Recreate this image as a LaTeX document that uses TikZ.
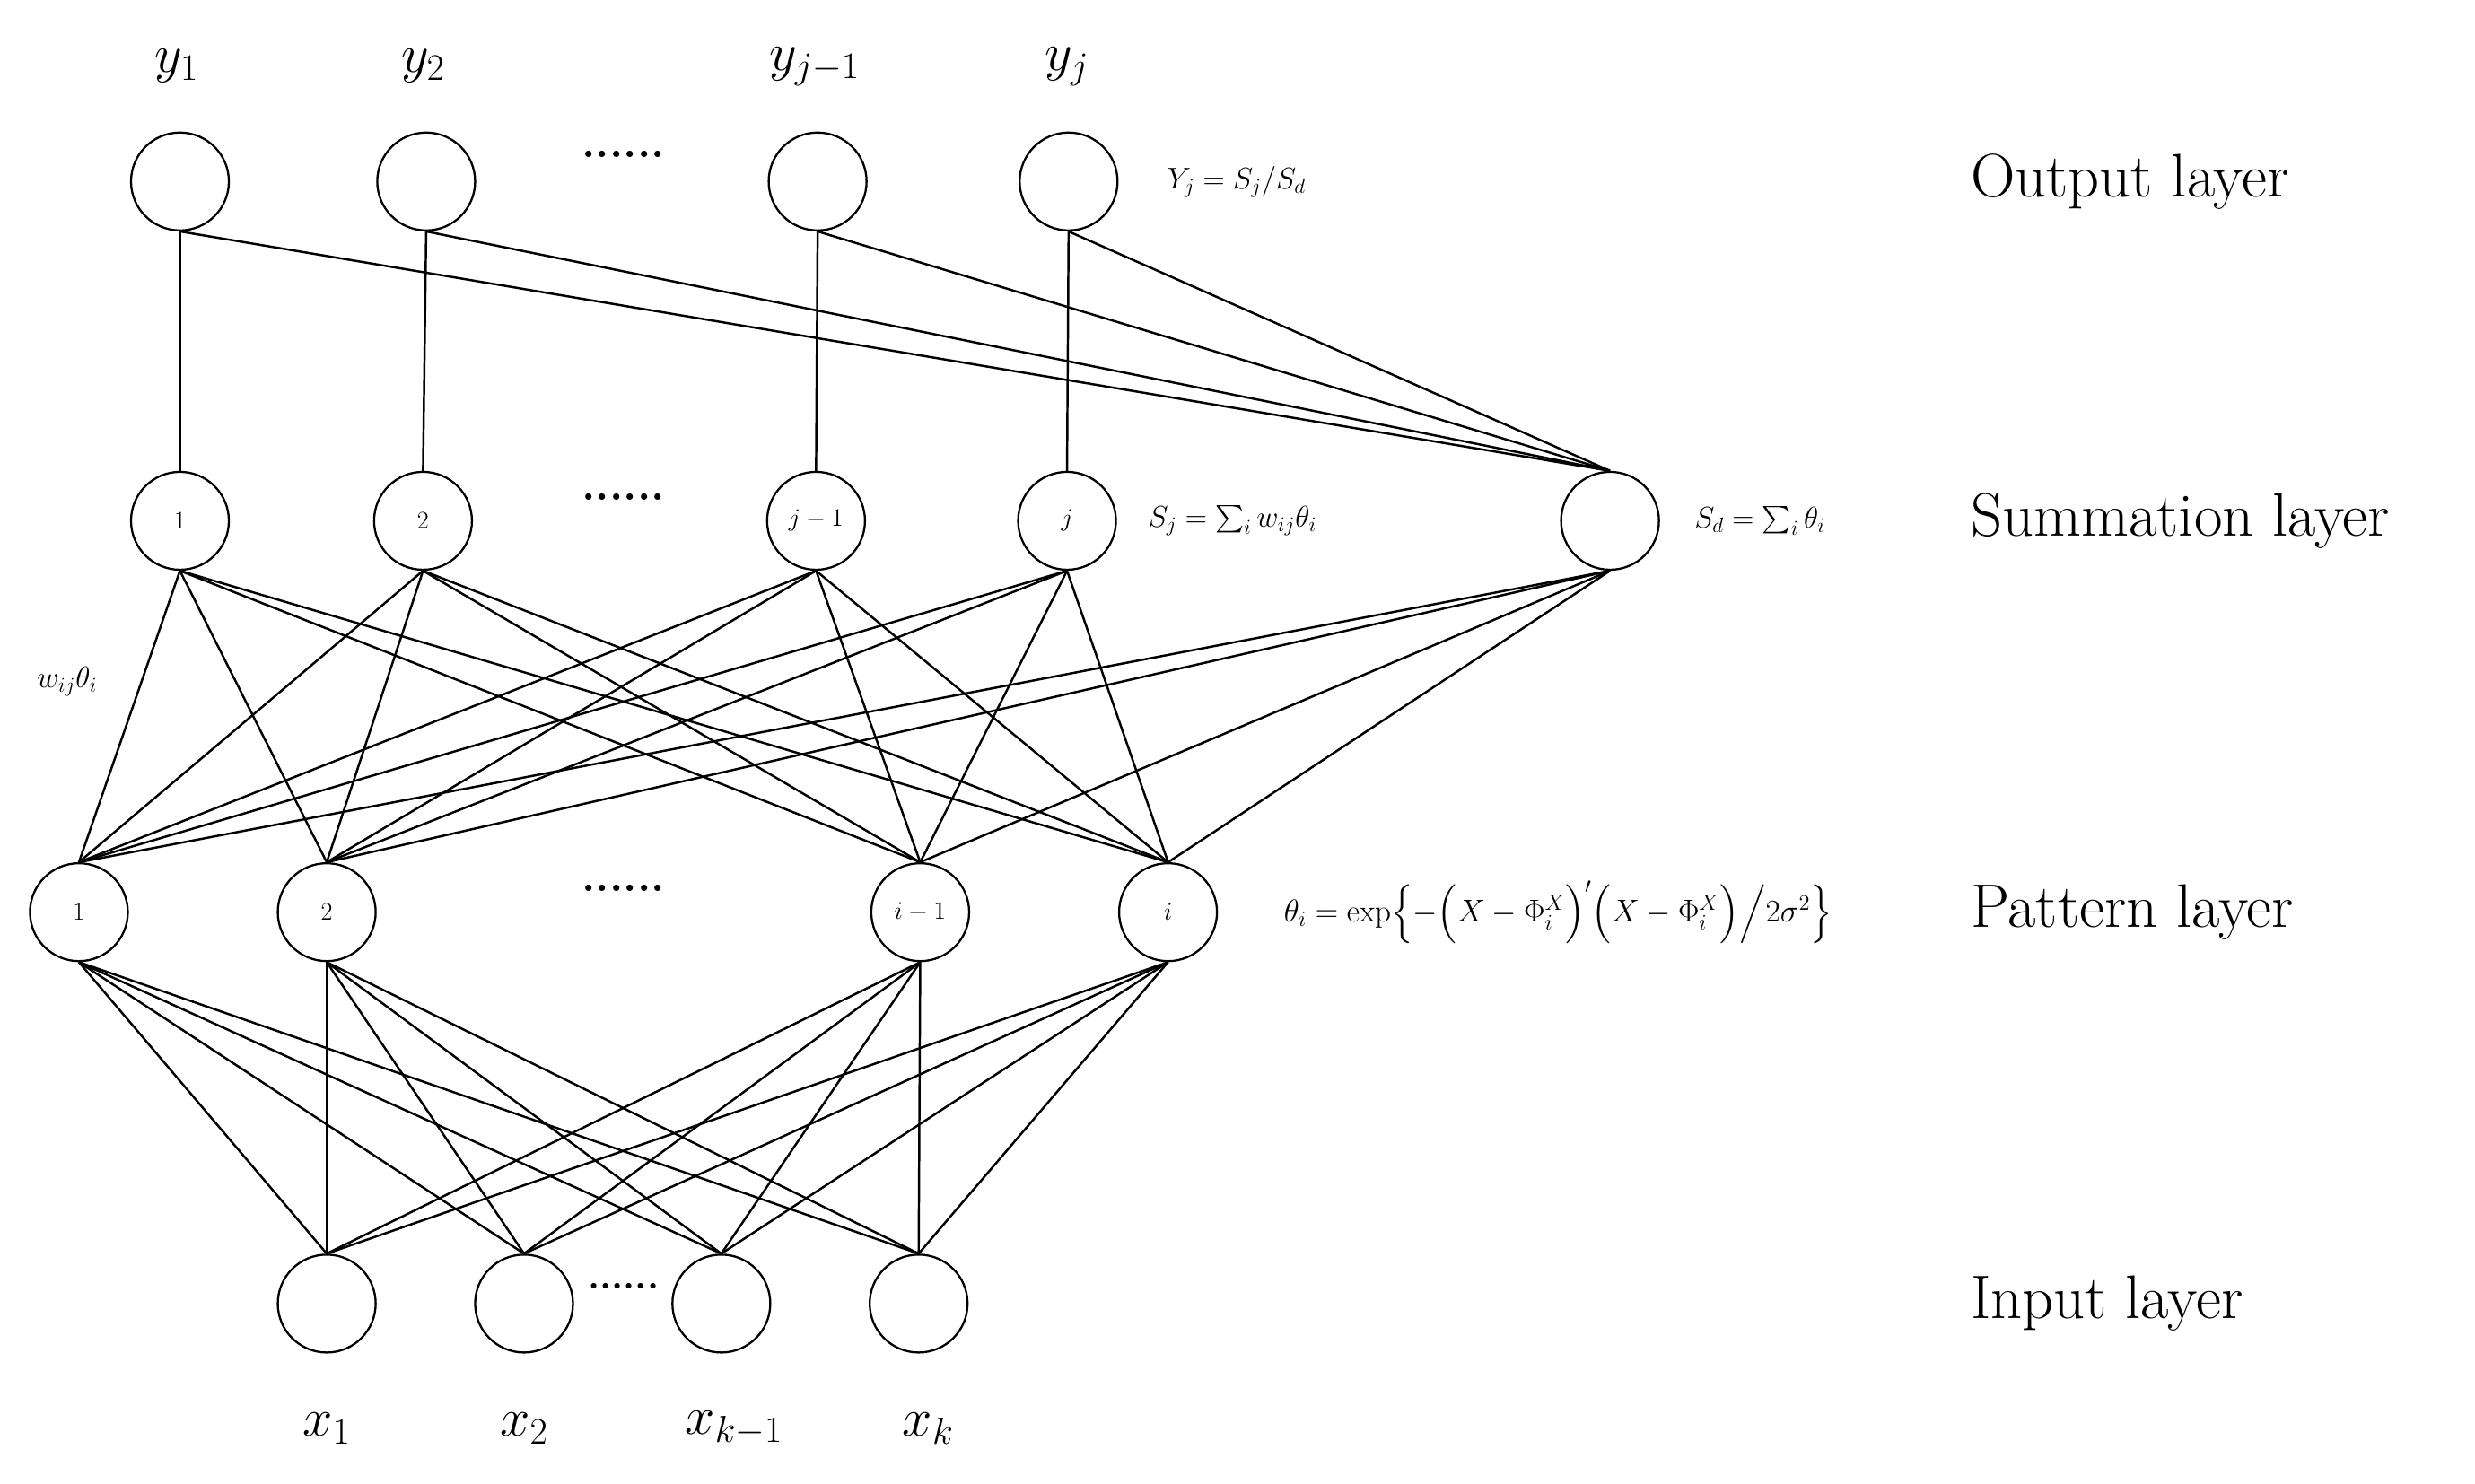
\RequirePackage{fix-cm}
\documentclass[tikz,border=0pt]{standalone}
\usepackage{amsmath}
\begin{document}
\begin{tikzpicture}[x=1pt,y=-1pt,
  nd/.style={circle,draw,line width=1.3pt,minimum size=62pt,inner sep=0pt,font=\fontsize{16}{17}\selectfont},
  ln/.style={line width=1.4pt},
  lay/.style={anchor=west,font=\fontsize{39}{44}\selectfont},
  lab/.style={font=\fontsize{34}{36}\selectfont},
  fm/.style={anchor=west,font=\fontsize{19}{21}\selectfont}]
\useasboundingbox (0,0) rectangle (1568,940);
% output
\foreach \n/\x in {o1/114,o2/270,o3/518,o4/677}{\node[nd] (\n) at (\x,115) {};}
% summation
\node[nd] (s1) at (114,330) {1};
\node[nd] (s2) at (268,330) {2};
\node[nd] (s3) at (517,330) {$j-1$};
\node[nd] (s4) at (676,330) {$j$};
\node[nd] (sd) at (1020,330) {};
% pattern
\node[nd] (p1) at (50,578) {1};
\node[nd] (p2) at (207,578) {2};
\node[nd] (p3) at (583,578) {$i-1$};
\node[nd] (p4) at (740,578) {$i$};
% input
\foreach \n/\x in {i1/207,i2/332,i3/457,i4/582}{\node[nd] (\n) at (\x,826) {};}
% connections
\foreach \k in {1,2,3,4}{
  \draw[ln] (o\k.south) -- (s\k.north);
  \draw[ln] (o\k.south) -- (sd.north);
  \foreach \p in {1,2,3,4}{
    \draw[ln] (s\k.south) -- (p\p.north);
    \draw[ln] (p\k.south) -- (i\p.north);
  }
  \draw[ln] (sd.south) -- (p\k.north);
}
% dots
\node[font=\fontsize{28}{30}\selectfont\bfseries] (d1) at (395,98) {......};
\node[font=\fontsize{28}{30}\selectfont\bfseries] (d2) at (395,315) {......};
\node[font=\fontsize{28}{30}\selectfont\bfseries] (d3) at (395,563) {......};
\node[font=\fontsize{24}{26}\selectfont\bfseries] (d4) at (395,815) {......};
% top labels
\node[lab] (ly1) at (112,42) {$y_1$};
\node[lab] (ly2) at (268,42) {$y_2$};
\node[lab] (ly3) at (516,42) {$y_{j-1}$};
\node[lab] (ly4) at (676,42) {$y_j$};
% bottom labels
\node[lab] (lx1) at (207,905) {$x_1$};
\node[lab] (lx2) at (332,905) {$x_2$};
\node[lab] (lx3) at (465,905) {$x_{k-1}$};
\node[lab] (lx4) at (588,905) {$x_k$};
% formulas
\node[fm] (f1) at (736,115) {$Y_j=S_j/S_d$};
\node[fm] (f2) at (724,330) {$S_j=\sum_i w_{ij}\theta_i$};
\node[fm] (f3) at (1070,330) {$S_d=\sum_i\theta_i$};
\node[fm,font=\fontsize{20}{22}\selectfont] (f4) at (810,578) {$\theta_i=\exp\Bigl\{-\Bigl(X-\Phi_i^X\Bigr)'\Bigl(X-\Phi_i^X\Bigr)\Big/2\sigma^2\Bigr\}$};
\node[fm] (f5) at (20,432) {$w_{ij}\theta_i$};
% layer names
\node[lay] (L1) at (1245,115) {Output layer};
\node[lay] (L2) at (1245,330) {Summation layer};
\node[lay] (L3) at (1245,578) {Pattern layer};
\node[lay] (L4) at (1245,826) {Input layer};
\end{tikzpicture}
\end{document}
